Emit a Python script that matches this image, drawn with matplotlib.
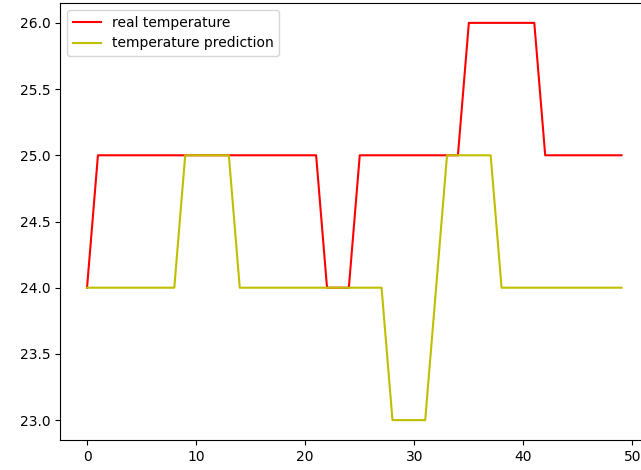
from matplotlib import pyplot as plt
import numpy as np

# values, one per time step
real_temp = [24] + [25] * 21 + [24] * 3 + [25] * 10 + [26] * 7 + [25] * 8
pred_temp = [24] * 9 + [25] * 5 + [24] * 14 + [23] * 4 + [24] + [25] * 5 + [24] * 12

steps = np.arange(len(real_temp))

fig = plt.figure(figsize=(6.41, 4.70), dpi=100)
# reference is cropped on the right, so the axes run past the figure edge
ax = fig.add_axes([60.3 / 641, 30 / 470, 588 / 641, 437 / 470])
ax.plot(steps, real_temp, color='r', label='real temperature')
ax.plot(steps, pred_temp, color='y', label='temperature prediction')
ax.legend(loc='upper left')

fig.savefig('out.png', dpi=100)
